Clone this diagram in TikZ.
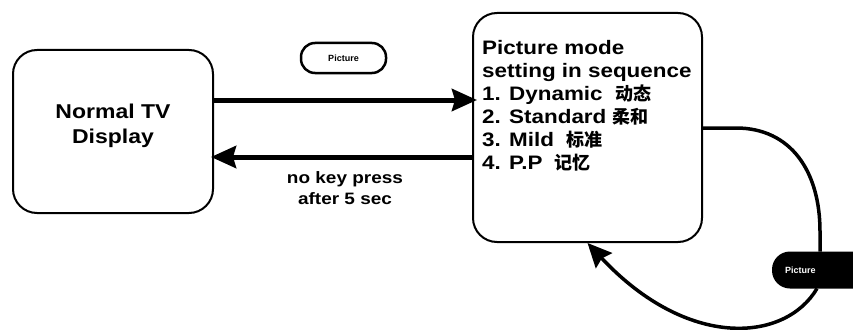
\documentclass[tikz,border=0pt]{standalone}
\usepackage{fontspec}
\usetikzlibrary{arrows.meta,calc}
\setmainfont{Liberation Sans}
\newfontfamily\af[FakeStretch=1.15]{Liberation Sans}
\newfontfamily\cjk{Noto Sans CJK SC}
\tikzset{
  box/.style={draw,line width=2pt,rounded corners=24pt,inner sep=0pt},
  bigarrow/.style={line width=5pt,-{Stealth[length=25pt,width=22pt,inset=3pt]}},
  loopline/.style={line width=3.5pt},
  looparrow/.style={line width=3.5pt,-{Stealth[length=24pt,width=22pt,inset=3pt]}},
  pillw/.style={draw,line width=2.5pt,rounded corners=14pt,fill=white,minimum width=85pt,minimum height=30pt,inner sep=0pt},
  pillb/.style={draw,line width=2pt,rounded corners=17pt,fill=black,minimum width=100pt,minimum height=35pt,inner sep=0pt},
  txt/.style={inner sep=0pt,font=\af\bfseries}
}
\begin{document}
\begin{tikzpicture}[x=1pt,y=-1pt]
\useasboundingbox (0,0) rectangle (853,329);
\clip (0,0) rectangle (853,329);
\node[box,minimum width=200pt,minimum height=163pt] (ntv) at (113,131.5) {};
\node[txt,align=center,font=\af\bfseries\fontsize{20}{25}\selectfont] (ntvtext) at (113,126) {Normal TV\\Display};
\node[box,minimum width=229pt,minimum height=229pt] (menu) at (587.5,127.5) {};
\node[txt,anchor=north west,align=left,font=\af\bfseries\fontsize{19.5}{23}\selectfont] (menutext) at (482,40)
 {Picture mode\\setting in sequence\\1. Dynamic \ {\cjk\fontsize{18}{23}\selectfont 动态}\\2. Standard {\cjk\fontsize{18}{23}\selectfont 柔和}\\3. Mild \ {\cjk\fontsize{18}{23}\selectfont 标准}\\4. P.P \ {\cjk\fontsize{18}{23}\selectfont 记忆}};
\node[pillw] (pic) at (343.5,58) {\bfseries\fontsize{9}{10}\selectfont Picture};
\node[txt,align=center,font=\af\bfseries\fontsize{16.5}{21}\selectfont] (nokey) at (345,188) {no key press\\after 5 sec};
\node[pillb] (btn2) at (823,270) {};
\node[txt,anchor=west,text=white,font=\bfseries\fontsize{9}{10}\selectfont] (btn2text) at (785,270) {Picture};
\coordinate (t1) at ($(ntv.east)+(0,-31.5)$);
\draw[bigarrow] (t1) -- ($(t1 -| menu.west)+(5,0)$);
\coordinate (b1) at ($(menu.west)+(0,29.5)$);
\draw[bigarrow] (b1) -- ($(b1 -| ntv.east)+(-3,0)$);
\draw[loopline] ($(menu.east)+(0,0.5)$) -- ++(33,0) .. controls ++(55,0) and ($(btn2.north)+(-3,-80)$) .. ($(btn2.north)+(-3,-20)$) -- ($(btn2.north)+(-3,0)$);
\draw[looparrow] ($(btn2.south)+(-6,0)$) .. controls +(-32,54) and +(100,107) .. (menu.south);
\end{tikzpicture}
\end{document}
